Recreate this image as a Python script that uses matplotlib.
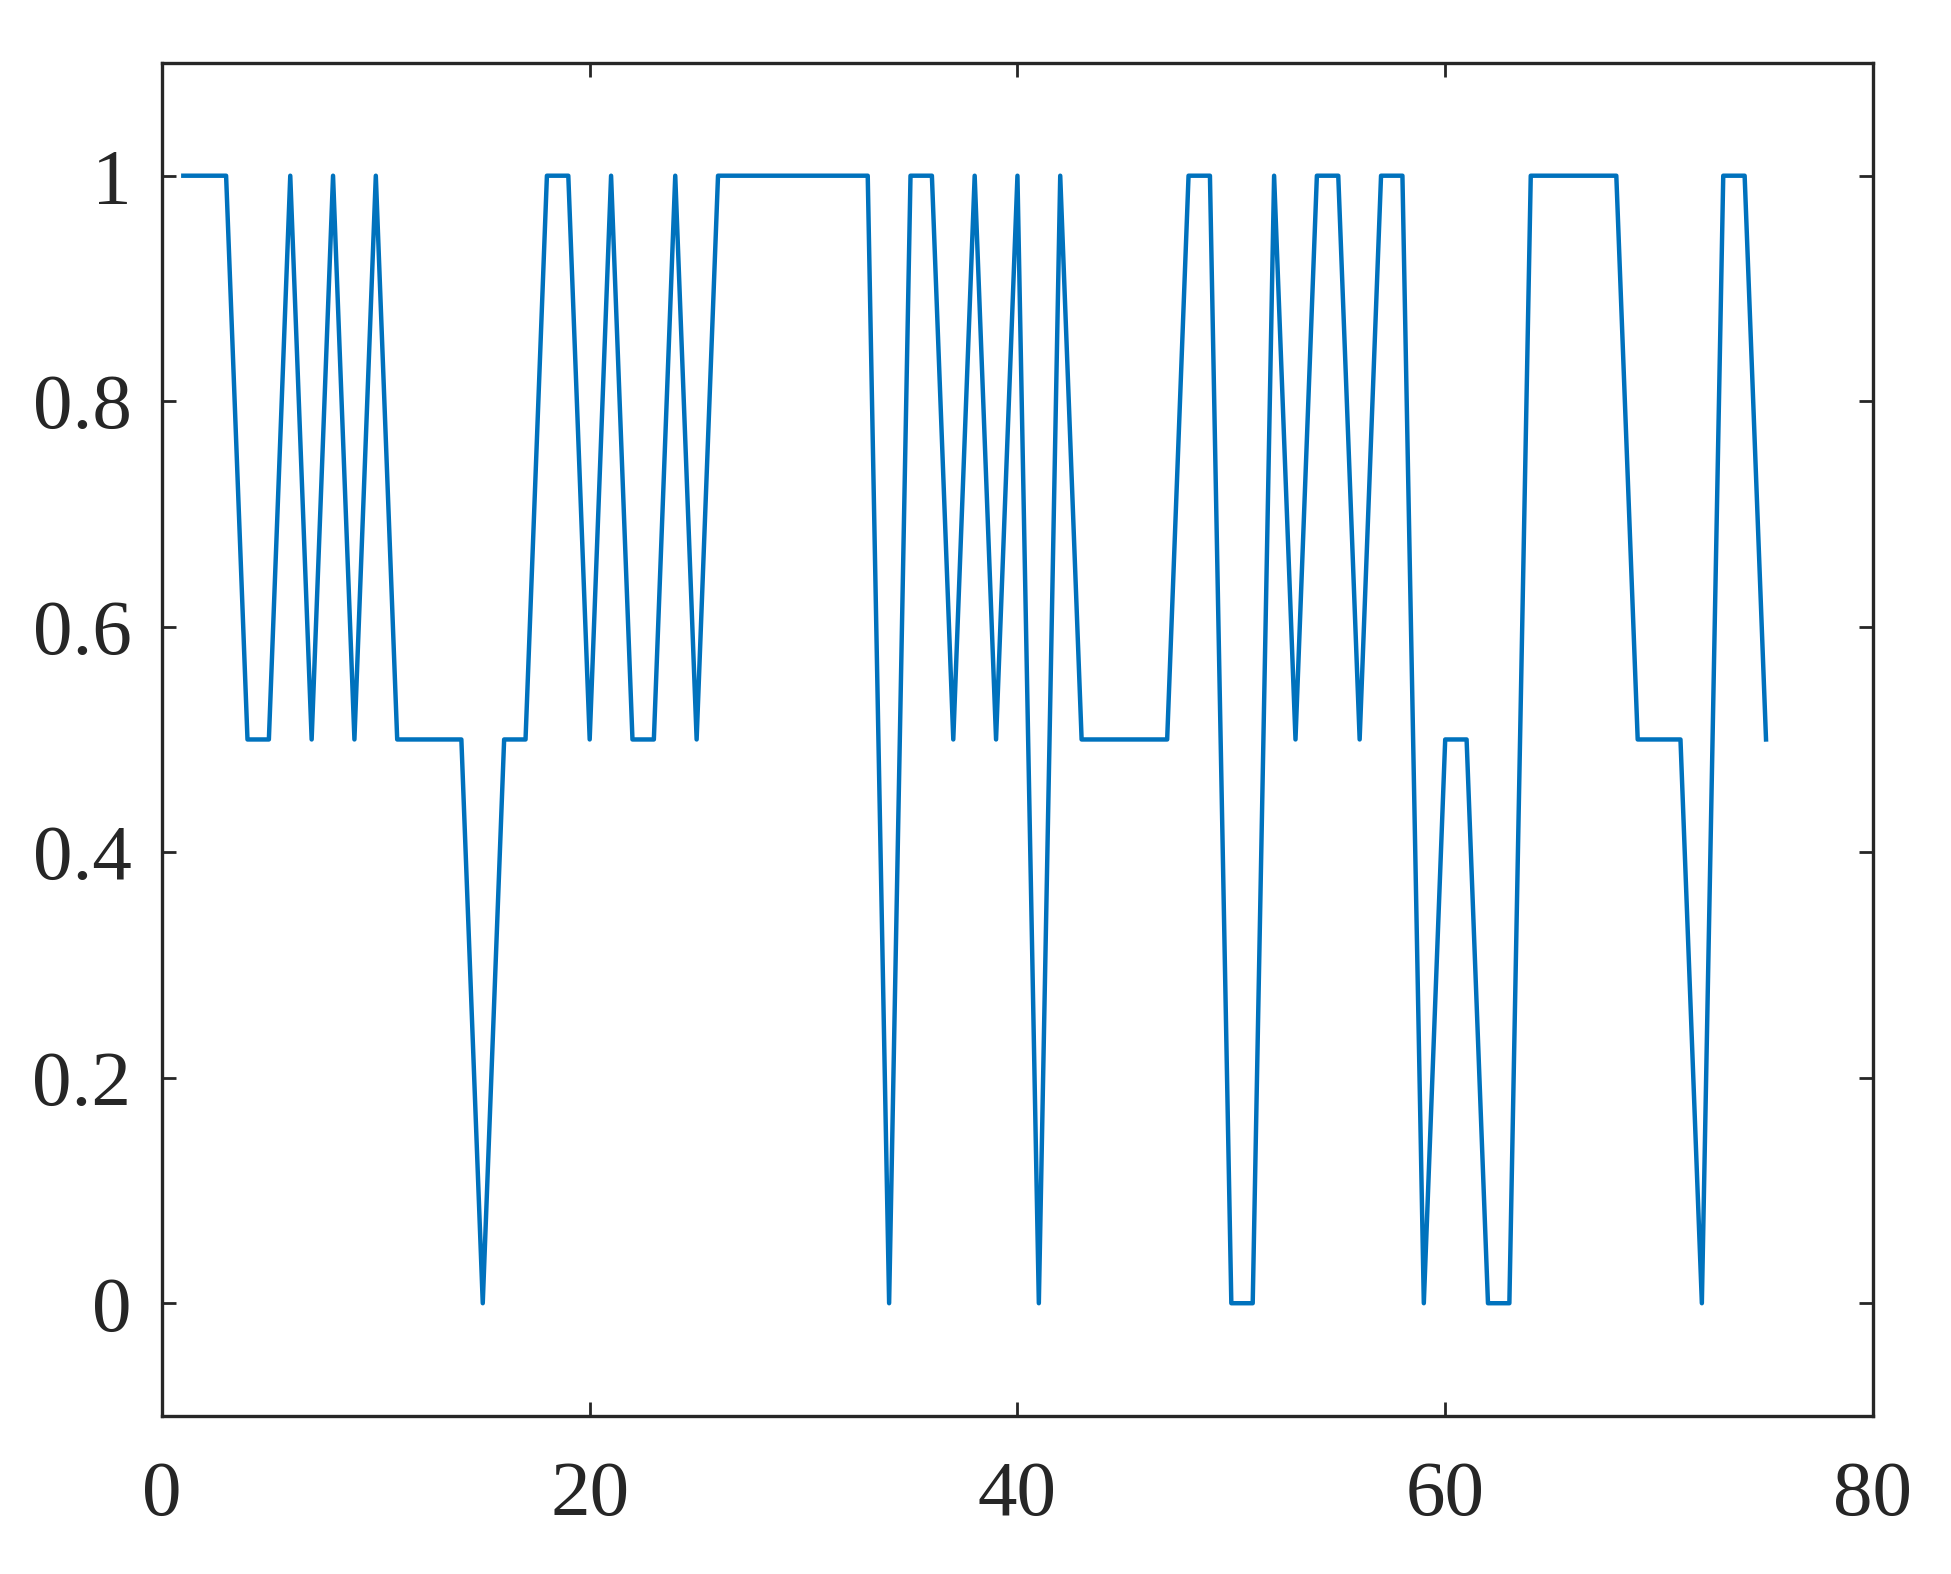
import matplotlib
matplotlib.use("Agg")
import matplotlib.pyplot as plt
import numpy as np

# sample index and state value
x = np.arange(1, 76)
y = [1, 1, 1, 0.5, 0.5, 1, 0.5, 1, 0.5, 1,
     0.5, 0.5, 0.5, 0.5, 0, 0.5, 0.5, 1, 1, 0.5,
     1, 0.5, 0.5, 1, 0.5, 1, 1, 1, 1, 1,
     1, 1, 1, 0, 1, 1, 0.5, 1, 0.5, 1,
     0, 1, 0.5, 0.5, 0.5, 0.5, 0.5, 1, 1, 0,
     0, 1, 0.5, 1, 1, 0.5, 1, 1, 0, 0.5,
     0.5, 0, 0, 1, 1, 1, 1, 1, 0.5, 0.5,
     0.5, 0, 1, 1, 0.5]
xticks = [0, 20, 40, 60, 80]
yticks = [0, 0.2, 0.4, 0.6, 0.8, 1]
ytick_labels = ['0', '0.2', '0.4', '0.6', '0.8', '1']

plt.rcParams['font.family'] = ['Liberation Serif', 'DejaVu Serif']

fig = plt.figure(figsize=(19.51, 15.74), dpi=100)
ax = fig.add_axes([0.083, 0.1004, 0.877, 0.8596])
ax.plot(x, y, color='#0072BD', linewidth=3.2)

ax.set_xlim(0, 80)
ax.set_ylim(-0.1, 1.1)
ax.set_xticks(xticks)
ax.set_yticks(yticks)
ax.set_yticklabels(ytick_labels)
ax.tick_params(direction='in', length=10, width=2, top=True, right=True,
               labelsize=57, colors='#262626')
ax.tick_params(axis='x', pad=32)
ax.tick_params(axis='y', pad=22)
for s in ax.spines.values():
    s.set_linewidth(2.4)
    s.set_color('#262626')

fig.savefig('out.png', dpi=100)
